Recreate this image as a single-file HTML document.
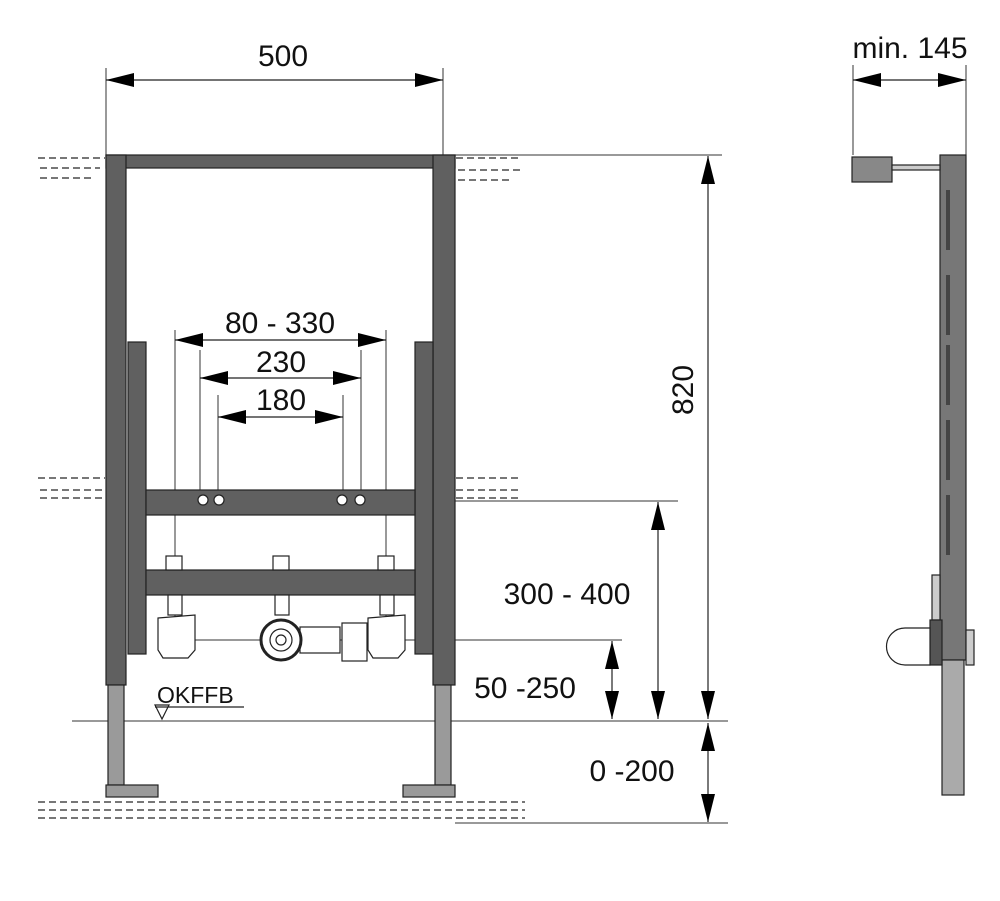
<!DOCTYPE html>
<html><head><style>html,body{margin:0;padding:0;background:#fff}svg{display:block}</style></head>
<body>
<svg width="1000" height="901" viewBox="0 0 1000 901" xmlns="http://www.w3.org/2000/svg" font-family="Liberation Sans, sans-serif">
<defs>
<marker id="a" viewBox="0 0 28 14" refX="28" refY="7" markerWidth="28" markerHeight="14" markerUnits="userSpaceOnUse" orient="auto-start-reverse"><path d="M0,0 L28,7 L0,14 z" fill="#000"/></marker>
</defs>
<g stroke="#777" stroke-width="2" stroke-dasharray="7,4" fill="none">
<path d="M38,158 H105 M40,168 H100 M40,178 H95"/>
<path d="M456,158 H520 M458,170 H520 M458,180 H510"/>
<path d="M38,478 H105 M40,490 H105 M40,498 H105"/>
<path d="M456,478 H520 M456,490 H520 M456,498 H520"/>
<path d="M38,802 H525 M38,810 H525 M38,818 H525"/>
</g>
<g stroke="#333" stroke-width="1" fill="none">
<path d="M106,68 V155 M443,68 V155"/>
<path d="M455,155 H722 M455,501 H678 M190,640 H622 M72,721 H728 M455,823 H728"/>
<path d="M175,330 V640 M386,330 V640 M200,350 V500 M361,350 V500 M218,395 V500 M343,395 V500"/>
<path d="M853,65 V155 M966,65 V155"/>
</g>
<g stroke="#222" stroke-width="1.2" marker-start="url(#a)" marker-end="url(#a)">
<line x1="106" y1="80" x2="443" y2="80"/>
<line x1="853" y1="80" x2="966" y2="80"/>
<line x1="175" y1="340" x2="386" y2="340"/>
<line x1="200" y1="378" x2="361" y2="378"/>
<line x1="218" y1="417" x2="343" y2="417"/>
<line x1="708" y1="156" x2="708" y2="719"/>
<line x1="658" y1="502" x2="658" y2="719"/>
<line x1="612" y1="641" x2="612" y2="719"/>
<line x1="708" y1="723" x2="708" y2="822"/>
</g>
<g fill="#606060" stroke="#222" stroke-width="1.2">
<rect x="106" y="155" width="349" height="13"/>
<rect x="106" y="155" width="20" height="530"/>
<rect x="433" y="155" width="22" height="530"/>
<rect x="128" y="342" width="18" height="312"/>
<rect x="415" y="342" width="18" height="312"/>
<rect x="146" y="490" width="269" height="25"/>
<rect x="146" y="570" width="269" height="25"/>
</g>
<g fill="#9a9a9a" stroke="#222" stroke-width="1.2">
<rect x="108" y="685" width="16" height="100"/>
<rect x="435" y="685" width="16" height="100"/>
<rect x="106" y="785" width="52" height="12"/>
<rect x="403" y="785" width="52" height="12"/>
</g>
<g fill="#fff" stroke="#222" stroke-width="1.2">
<rect x="166" y="556" width="16" height="14"/><rect x="273" y="556" width="16" height="14"/><rect x="378" y="556" width="16" height="14"/>
<rect x="168" y="595" width="14" height="20"/><rect x="275" y="595" width="14" height="20"/><rect x="380" y="595" width="14" height="20"/>
<path d="M158,618 L195,615 L195,650 L188,658 L163,658 L158,650 z"/>
<path d="M368,618 L405,615 L405,650 L398,658 L373,658 L368,650 z"/>
<rect x="300" y="627" width="40" height="26"/>
<rect x="342" y="623" width="25" height="38"/>
<circle cx="281" cy="640" r="20" stroke-width="3"/><circle cx="281" cy="640" r="11"/><circle cx="281" cy="640" r="5"/>
<circle cx="203" cy="500" r="5"/><circle cx="219" cy="500" r="5"/><circle cx="342" cy="500" r="5"/><circle cx="360" cy="500" r="5"/>
</g>
<g stroke="#222" stroke-width="1.2" fill="none"><path d="M155,707 H244 M155,705 L162,719 L169,705 z"/></g>
<g stroke="#222" stroke-width="1.2">
<rect x="940" y="155" width="26" height="505" fill="#777"/>
<rect x="942" y="660" width="22" height="135" fill="#aaa"/>
<rect x="852" y="157" width="40" height="25" fill="#888"/>
<rect x="892" y="165" width="48" height="5" fill="#ccc"/>
<rect x="932" y="575" width="8" height="45" fill="#ccc"/>
<rect x="930" y="620" width="12" height="45" fill="#555"/>
<path d="M930,628 H905 A18,18 0 0 0 905,665 H930 z" fill="#fff"/>
<rect x="966" y="630" width="8" height="35" fill="#ccc"/>
</g>
<g fill="#444"><rect x="946" y="190" width="4" height="60"/><rect x="946" y="275" width="4" height="60"/><rect x="946" y="345" width="4" height="60"/><rect x="946" y="420" width="4" height="60"/><rect x="946" y="495" width="4" height="60"/></g>
<g font-size="30" fill="#111" text-anchor="middle">
<text x="283" y="66">500</text>
<text x="910" y="58">min. 145</text>
<text x="280" y="333">80 - 330</text>
<text x="281" y="372">230</text>
<text x="281" y="410">180</text>
<text x="567" y="604">300 - 400</text>
<text x="525" y="698">50 -250</text>
<text x="632" y="781">0 -200</text>
<text transform="translate(693,390) rotate(-90)">820</text>
</g>
<text x="157" y="703" font-size="23" fill="#111">OKFFB</text>
</svg>
</body></html>
